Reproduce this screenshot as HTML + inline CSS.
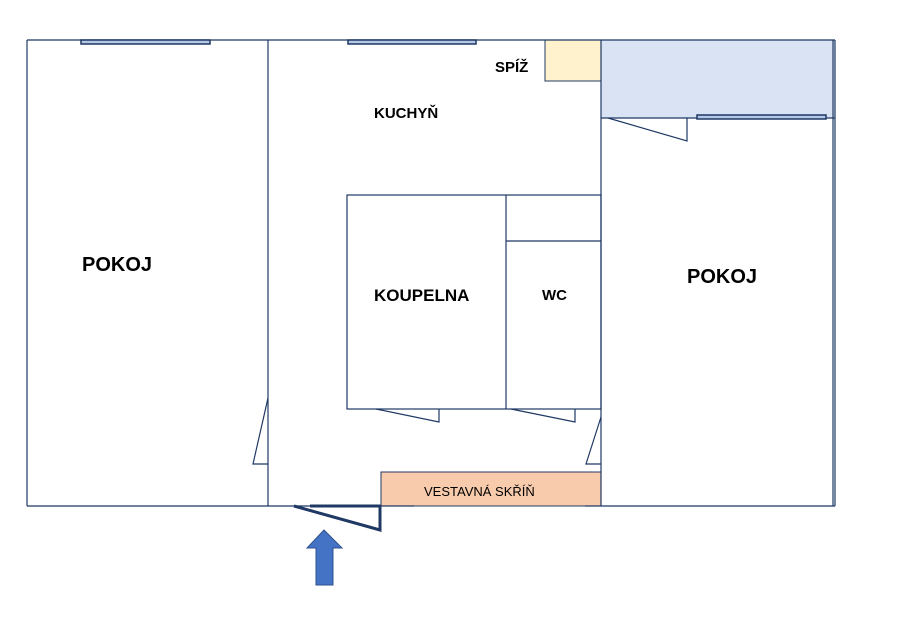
<!DOCTYPE html>
<html><head><style>body{margin:0;background:#fff}svg{display:block}text{font-family:"Liberation Sans",sans-serif}</style></head><body>
<svg width="917" height="621" viewBox="0 0 917 621" xmlns="http://www.w3.org/2000/svg">
<rect x="601" y="40" width="234" height="78" fill="#dae3f3"/>
<rect x="545" y="40" width="56" height="41" fill="#fff2cc" stroke="#1f3864" stroke-width="1"/>
<rect x="381" y="472" width="220" height="34" fill="#f8cbad" stroke="#1f3864" stroke-width="1"/>
<g fill="none" stroke="#1f3864" stroke-width="1.2">
<line x1="27" y1="40" x2="835" y2="40"/>
<line x1="27" y1="40" x2="27" y2="506"/>
<line x1="833" y1="40" x2="833" y2="506"/>
<line x1="835" y1="40" x2="835" y2="506"/>
<line x1="27" y1="506" x2="414" y2="506"/>
<line x1="585" y1="506" x2="835" y2="506"/>
<line x1="268" y1="40" x2="268" y2="506"/>
<line x1="601" y1="40" x2="601" y2="506"/>
<line x1="601" y1="118" x2="835" y2="118"/>
<rect x="347" y="195" width="254" height="214"/>
<line x1="506" y1="195" x2="506" y2="409"/>
<line x1="506" y1="241" x2="601" y2="241"/>
<polyline points="268,398 253,464 268,464"/>
<polyline points="376,409 439,422 439,409"/>
<polyline points="511,409 575,422 575,409"/>
<polyline points="601,417 586,464 601,464"/>
<polyline points="608,118 687,141 687,118"/>
</g>
<g fill="#b4c7e7" stroke="#1f3864" stroke-width="1.5">
<rect x="81" y="40" width="129" height="4"/>
<rect x="348" y="40" width="128" height="4"/>
<rect x="697" y="115" width="129" height="4"/>
</g>
<polyline points="294,506 380,530 380,506 310,506" fill="none" stroke="#1f3864" stroke-width="3"/>
<polygon points="324,530 342,548 333,548 333,585 316,585 316,548 307,548" fill="#4472c4" stroke="#2f528f" stroke-width="1"/>
<g font-weight="bold" fill="#000">
<text x="82" y="271" font-size="20">POKOJ</text>
<text x="687" y="283" font-size="20">POKOJ</text>
<text x="374" y="118" font-size="15">KUCHYŇ</text>
<text x="495" y="72" font-size="15">SPÍŽ</text>
<text x="374" y="301" font-size="17">KOUPELNA</text>
<text x="542" y="300" font-size="15">WC</text>
</g>
<text x="424" y="496" font-size="13" fill="#000">VESTAVNÁ SKŘÍŇ</text>
</svg>
</body></html>
